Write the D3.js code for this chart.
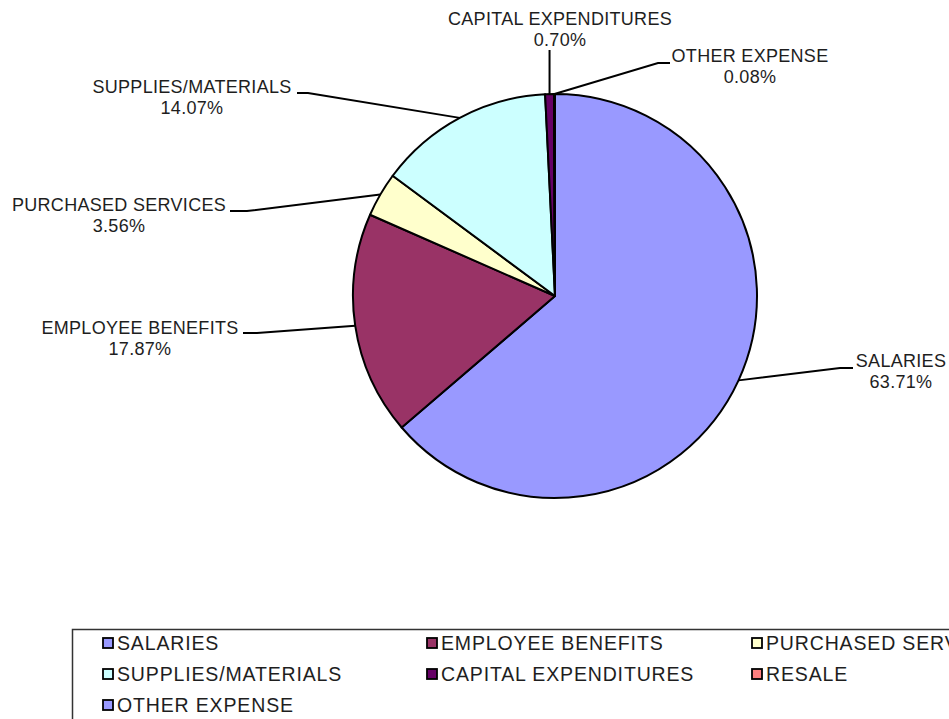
<!DOCTYPE html>
<html>
<head>
<meta charset="utf-8">
<script src="https://cdn.jsdelivr.net/npm/d3@7"></script>
<style>
  html, body { margin: 0; padding: 0; background: #fff; }
  svg { display: block; }
  text { font-family: "Liberation Sans", Arial, sans-serif; fill: #1e1e1e; }
</style>
</head>
<body>
<svg id="chart" width="949" height="719"></svg>
<script>
// ---- data ----
const categories = ["SALARIES", "EMPLOYEE BENEFITS", "PURCHASED SERVICES", "SUPPLIES/MATERIALS", "CAPITAL EXPENDITURES", "RESALE", "OTHER EXPENSE"];
const values = [63.71, 17.87, 3.56, 14.07, 0.70, 0.00, 0.08];
const valueLabels = ["63.71%", "17.87%", "3.56%", "14.07%", "0.70%", "", "0.08%"];
const colors = ["#9999FF", "#993366", "#FFFFCC", "#CCFFFF", "#660066", "#FF8080", "#9999FF"];

// ---- label layout (text centre / baseline, elbow and end of leader) ----
const labelLayout = {
  "SALARIES":             { tx: 901, ty: 367, elbow: [840, 368], end: [853, 368] },
  "EMPLOYEE BENEFITS":    { tx: 140, ty: 334, elbow: [257, 333], end: [243, 333] },
  "PURCHASED SERVICES":   { tx: 119, ty: 211, elbow: [247, 211], end: [230, 211] },
  "SUPPLIES/MATERIALS":   { tx: 192, ty: 93,  elbow: [308, 93],  end: [297, 93] },
  "CAPITAL EXPENDITURES": { tx: 560, ty: 25,  elbow: null,       end: [null, 50] },
  "OTHER EXPENSE":        { tx: 750, ty: 62,  elbow: [658, 63],  end: [670, 63] }
};

const svg = d3.select("#chart");
const cx = 555, cy = 296, r = 202;

const pie = d3.pie().sort(null).value(d => d.value);
const data = categories.map((c, i) => ({ name: c, value: values[i], label: valueLabels[i], color: colors[i] }));
const arcs = pie(data);

const arc = d3.arc().innerRadius(0).outerRadius(r);
const edgeArc = d3.arc().innerRadius(r).outerRadius(r);

const g = svg.append("g").attr("transform", `translate(${cx},${cy})`);
g.selectAll("path.slice")
  .data(arcs)
  .join("path")
  .attr("class", "slice")
  .attr("d", arc)
  .attr("fill", d => d.data.color)
  .attr("stroke", "#000")
  .attr("stroke-width", 2)
  .attr("stroke-linejoin", "round");

// ---- leader lines and labels ----
const lg = svg.append("g");
arcs.forEach(a => {
  const lay = labelLayout[a.data.name];
  if (!lay) return;
  const [ex, ey] = edgeArc.centroid(a);
  const p0 = [cx + ex, cy + ey];
  let pts;
  if (lay.elbow) {
    pts = [p0, lay.elbow, lay.end];
  } else {
    pts = [p0, [p0[0], lay.end[1]]];
  }
  lg.append("path")
    .attr("d", d3.line()(pts))
    .attr("fill", "none")
    .attr("stroke", "#000")
    .attr("stroke-width", 2);

  const t = lg.append("text")
    .attr("text-anchor", "middle")
    .style("font-size", "18px")
    .style("letter-spacing", "0.3px");
  t.append("tspan").attr("x", lay.tx).attr("y", lay.ty).text(a.data.name);
  t.append("tspan").attr("x", lay.tx).attr("y", lay.ty + 21).text(a.data.label);
});

// ---- legend ----
const legend = svg.append("g");
legend.append("rect")
  .attr("x", 72.5).attr("y", 629.5)
  .attr("width", 1000).attr("height", 200)
  .attr("fill", "#fff")
  .attr("stroke", "#333")
  .attr("stroke-width", 1.5);

const colX = [103, 427, 752];
const rowY = [643, 674, 705];
categories.forEach((c, i) => {
  const col = i % 3, row = Math.floor(i / 3);
  const x = colX[col], y = rowY[row];
  legend.append("rect")
    .attr("x", x).attr("y", y - 5)
    .attr("width", 10).attr("height", 10)
    .attr("fill", colors[i])
    .attr("stroke", "#000")
    .attr("stroke-width", 1.8);
  legend.append("text")
    .attr("x", x + 14).attr("y", y + 7)
    .style("font-size", "19.5px")
    .style("letter-spacing", "0.85px")
    .text(c);
});
</script>
</body>
</html>
